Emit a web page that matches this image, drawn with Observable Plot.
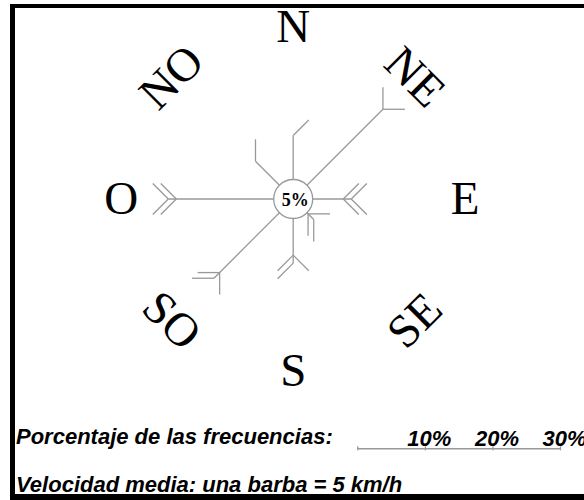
<!DOCTYPE html>
<html><head><meta charset="utf-8">
<script src="https://cdn.jsdelivr.net/npm/d3@7"></script>
<script src="https://cdn.jsdelivr.net/npm/@observablehq/plot@0.6"></script>
<style>
html,body{margin:0;padding:0;background:#fff;}
#wrap{position:relative;width:584px;height:500px;overflow:hidden;background:#fff;}
#wrap svg{position:absolute;left:0;}
.frame{position:absolute;background:#000;z-index:5;}
.note{position:absolute;left:16px;font:italic bold 22px "Liberation Sans",Arial,sans-serif;color:#000;white-space:nowrap;line-height:22px;z-index:2;}
</style></head>
<body><div id="wrap"></div>
<script>
// ---- data ----
const directions = ["N","NE","E","SE","S","SO","O","NO"];
const bearings   = [0, 45, 90, 135, 180, 225, 270, 315];   // degrees
const frequency  = [9.4, 18.8, 8.6, 4.3, 9.5, 16.6, 18.5, 7.9]; // % of observations
const speed      = [5, 10, 20, 15, 15, 15, 20, 5];          // km/h mean speed
const barbValue  = 5;      // km/h per barb
const calm       = 5;      // % calms
const scaleTicks = [10, 20, 30];
const noteFreq   = "Porcentaje de las frecuencias:";
const noteSpeed  = "Velocidad media: una barba = 5 km/h";

// ---- layout ----
const W = 584, H = 500;
const grey = "#999999";
const cx = 292.7, cy = 198.5, pxPerPct = 6.75;
const barbLen = 22 / pxPerPct, barbGap = 8 / pxPerPct, labelR = 172 / pxPerPct, calmR = 19.5;
const rad = a => a * Math.PI / 180;

const rose = directions.map((d, i) => ({dir: d, bearing: bearings[i], freq: frequency[i], speed: speed[i]}));
const barbData = rose.flatMap(r => {
  const n = Math.round(r.speed / barbValue), pairs = Math.ceil(n / 2);
  return d3.range(n).map(j => {
    const k = Math.floor(j / 2), side = j % 2 === 0 ? 1 : -1;
    const pos = r.freq - (pairs - 1 - k) * barbGap;
    const a = rad(r.bearing), b = rad(r.bearing + side * 45);
    const x1 = pos * Math.sin(a), y1 = pos * Math.cos(a);
    return {x1, y1, x2: x1 + barbLen * Math.sin(b), y2: y1 + barbLen * Math.cos(b)};
  });
});
const rot = b => (b % 180 === 45 ? 45 : b % 180 === 135 ? -45 : 0);

const main = Plot.plot({
  width: W, height: H, margin: 0,
  x: {domain: [-cx / pxPerPct, (W - cx) / pxPerPct], axis: null},
  y: {domain: [-(H - cy) / pxPerPct, cy / pxPerPct], axis: null},
  style: {background: "transparent", overflow: "visible"},
  marks: [
    Plot.link(rose, {x1: () => 0, y1: () => 0,
      x2: d => d.freq * Math.sin(rad(d.bearing)), y2: d => d.freq * Math.cos(rad(d.bearing)),
      stroke: grey, strokeWidth: 1.3}),
    Plot.link(barbData, {x1: "x1", y1: "y1", x2: "x2", y2: "y2", stroke: grey, strokeWidth: 1.3}),
    Plot.dot([calm], {x: () => 0, y: () => 0, r: calmR, fill: "white", stroke: grey, strokeWidth: 1.3}),
    Plot.text([calm], {x: () => 0, y: () => 0, text: d => d + "%", dx: 2, dy: 1,
      fontFamily: "Liberation Serif", fontWeight: "bold", fontSize: 18, fill: "black"}),
    Plot.text(rose, {x: d => labelR * Math.sin(rad(d.bearing)), y: d => labelR * Math.cos(rad(d.bearing)),
      text: "dir", rotate: d => rot(d.bearing),
      fontFamily: "Liberation Serif", fontSize: 47, fill: "black"})
  ]
});
main.style.top = "0px";

const bar = Plot.plot({
  width: W, height: 30, marginTop: 23.3, marginBottom: 4.7, marginLeft: 357.3, marginRight: W - 560,
  x: {domain: [0, d3.max(scaleTicks)], axis: null},
  y: {domain: [0, 1], axis: null},
  style: {background: "transparent", overflow: "visible"},
  marks: [
    Plot.ruleY([1], {x1: () => 0, x2: () => d3.max(scaleTicks), stroke: grey, strokeWidth: 1.5}),
    Plot.ruleX([0, ...scaleTicks], {stroke: grey, strokeWidth: 1.3, insetTop: -2}),
    Plot.text(scaleTicks, {x: d => d, y: () => 1, text: d => d + "%", lineAnchor: "bottom", dy: -3.3, dx: 4,
      fontFamily: "Liberation Sans", fontSize: 22, fontStyle: "italic", fontWeight: "bold", fill: "black"})
  ]
});
bar.style.top = "425px";

const wrap = document.getElementById("wrap");
wrap.appendChild(main);
wrap.appendChild(bar);
function note(txt, top) {
  const d = document.createElement("div");
  d.className = "note"; d.textContent = txt; d.style.top = top + "px";
  wrap.appendChild(d);
}
note(noteFreq, 426.4);
note(noteSpeed, 474.4);
function frame(l, t, w, h) {
  const d = document.createElement("div");
  d.className = "frame";
  Object.assign(d.style, {left: l + "px", top: t + "px", width: w + "px", height: h + "px"});
  wrap.appendChild(d);
}
frame(10, 4, 574, 4);
frame(10, 4, 5, 496);
frame(10, 494, 574, 6);
</script>
</body></html>
